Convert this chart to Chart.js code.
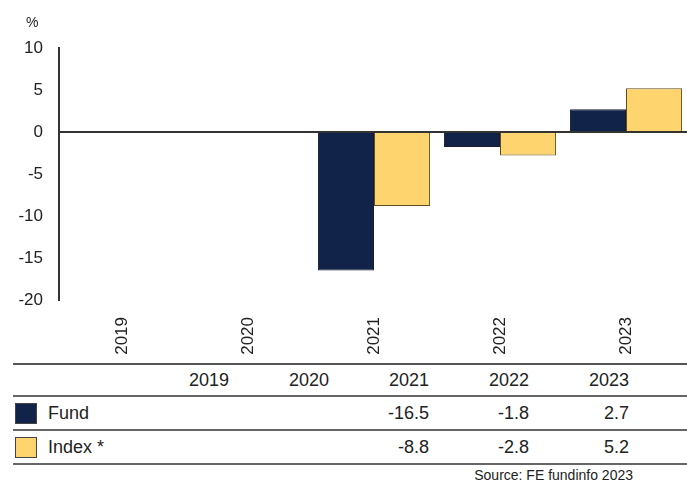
<!DOCTYPE html>
<html lang="en">
  <head>
    <meta charset="UTF-8" />
    <title>Discrete performance</title>
    <style>
      * {
        margin: 0;
        padding: 0;
        box-sizing: border-box;
        font-family: "Liberation Sans", Arial, sans-serif;
      }
      body {
        width: 687px;
        height: 484px;
        position: relative;
        background: #fff;
        color: #222;
        overflow: hidden;
      }
      .chartBox {
        position: absolute;
        left: 0;
        top: 0;
        width: 689px;
        height: 362px;
      }
      .unit {
        position: absolute;
        left: 26px;
        top: 14px;
        font-size: 14px;
      }
      .rule {
        position: absolute;
        left: 13px;
        right: 0;
        height: 0;
        border-top: 2px solid #555;
      }
      .cell {
        position: absolute;
        font-size: 18px;
        line-height: 20px;
        white-space: nowrap;
      }
      .swatch {
        position: absolute;
        left: 15px;
        width: 22px;
        height: 21px;
        border: 1px solid #444;
      }
      .source {
        position: absolute;
        right: 54px;
        top: 467px;
        font-size: 14px;
      }
    </style>
  </head>
  <body>
    <div class="chartBox">
      <canvas id="myChart" width="689" height="362"></canvas>
    </div>
    <div class="unit">%</div>
    <div id="table"></div>
    <div class="source">Source: FE fundinfo 2023</div>

    <script src="https://cdn.jsdelivr.net/npm/chart.js"></script>
    <script>
      const years = ["2019", "2020", "2021", "2022", "2023"];
      const fundValues = [null, null, -16.5, -1.8, 2.7];
      const indexValues = [null, null, -8.8, -2.8, 5.2];
      const seriesNames = ["Fund", "Index *"];
      const seriesColors = ["#12234a", "#fed46f"];
      const seriesBorders = ["#1b1b2b", "#5e4c22"];

      const fontFamily = "'Liberation Sans', Arial, sans-serif";

      const ctx = document.getElementById("myChart");

      const config = {
        type: "bar",
        data: {
          labels: years,
          datasets: [
            {
              label: seriesNames[0],
              data: fundValues,
              backgroundColor: seriesColors[0],
              borderColor: seriesBorders[0],
              borderWidth: 1,
            },
            {
              label: seriesNames[1],
              data: indexValues,
              backgroundColor: seriesColors[1],
              borderColor: seriesBorders[1],
              borderWidth: 1,
            },
          ],
        },
        options: {
          responsive: false,
          animation: false,
          categoryPercentage: 0.89,
          barPercentage: 1,
          layout: { padding: { top: 48, right: 0, left: 0, bottom: 0 } },
          plugins: {
            legend: { display: false },
            tooltip: { enabled: false },
          },
          scales: {
            x: {
              grid: { display: false },
              border: { display: false },
              ticks: {
                minRotation: 90,
                maxRotation: 90,
                padding: 9,
                color: "#222",
                font: { family: fontFamily, size: 17 },
              },
              afterFit: (scale) => {
                scale.height = 62;
              },
            },
            y: {
              min: -20,
              max: 10,
              ticks: {
                stepSize: 5,
                padding: 16,
                color: "#222",
                font: { family: fontFamily, size: 17 },
              },
              border: { color: "#333", width: 2 },
              grid: {
                drawTicks: false,
                lineWidth: 2,
                color: (c) => (c.tick && c.tick.value === 0 ? "#333" : "transparent"),
              },
              afterFit: (scale) => {
                scale.width = 59;
              },
            },
          },
        },
      };

      const myChart = new Chart(ctx, config);

      // table under the chart
      const table = document.getElementById("table");
      const rules = [364, 396, 430, 464];
      rules.forEach((y, i) => {
        const r = document.createElement("div");
        r.className = "rule";
        r.style.top = y - 1 + "px";
        if (i > 0) r.style.borderTopColor = "#666";
        table.appendChild(r);
      });

      function addCell(text, right, top) {
        const d = document.createElement("div");
        d.className = "cell";
        d.textContent = text;
        d.style.right = 687 - right + "px";
        d.style.top = top + "px";
        table.appendChild(d);
      }

      const rowTops = [370, 403, 437];
      years.forEach((y, i) => addCell(y, 229 + i * 100, rowTops[0]));

      const rows = [fundValues, indexValues];
      rows.forEach((vals, r) => {
        const sw = document.createElement("div");
        sw.className = "swatch";
        sw.style.top = rowTops[r + 1] + "px";
        sw.style.background = seriesColors[r];
        table.appendChild(sw);

        const name = document.createElement("div");
        name.className = "cell";
        name.textContent = seriesNames[r];
        name.style.left = "48px";
        name.style.top = rowTops[r + 1] + "px";
        table.appendChild(name);

        vals.forEach((v, i) => {
          if (v !== null) addCell(v.toFixed(1), 229 + i * 100, rowTops[r + 1]);
        });
      });
    </script>
  </body>
</html>
